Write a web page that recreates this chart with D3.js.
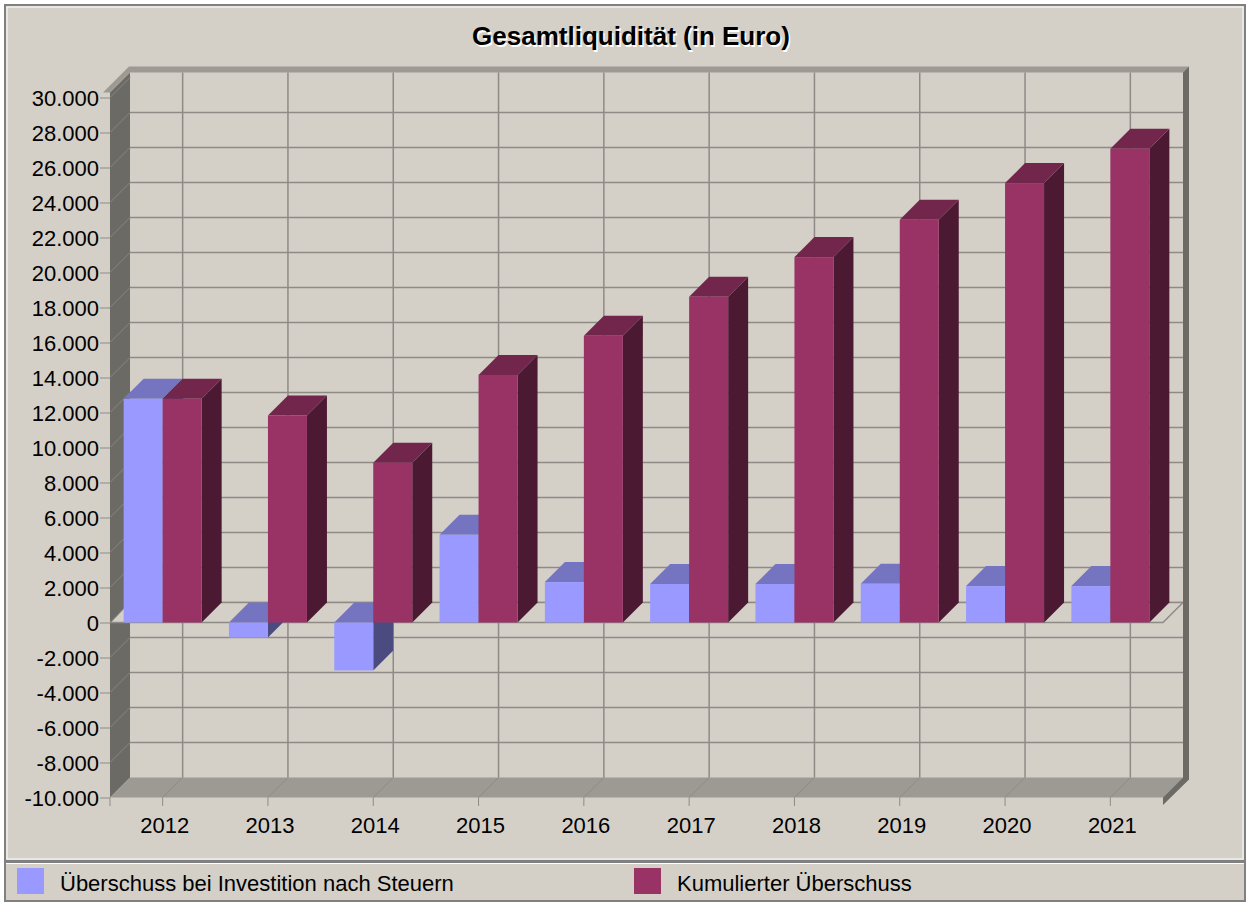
<!DOCTYPE html>
<html>
<style>
    body { margin: 0; background: #fff; }
    text { font-family: "Liberation Sans", Arial, sans-serif; fill: #000; }
    .axis text { font-size: 22px; }
    .legend text { font-size: 22px; }
</style>
<body>
<svg id="viz" width="1251" height="903"></svg>

<script src="https://cdnjs.cloudflare.com/ajax/libs/d3/7.8.5/d3.min.js"></script>
<script>
    // data
    var years = ['2012', '2013', '2014', '2015', '2016', '2017', '2018', '2019', '2020', '2021'];
    var ueberschuss = [12780, -860, -2740, 5010, 2310, 2200, 2200, 2210, 2080, 2080];
    var kumuliert = [12780, 11830, 9130, 14150, 16380, 18610, 20880, 23010, 25110, 27070];
    var seriesNames = ['Überschuss bei Investition nach Steuern', 'Kumulierter Überschuss'];
    var yTicks = d3.range(-10000, 30001, 2000);

    var bg = '#d4d0c8';
    var colors = [
        { front: '#9999ff', top: '#7474c0', side: '#4b4b80' },
        { front: '#993366', top: '#73264c', side: '#4c1933' }
    ];
    var gridColor = '#8e8b86';
    var wallDark = '#6b6a65';
    var ledge = '#9d9a93';

    var DX = 20, DY = -20;   // depth offset of the 3d box

    var svg = d3.select('#viz');

    var de = d3.formatLocale({ decimal: ',', thousands: '.', grouping: [3], currency: ['', ' €'], minus: '-' });
    var fmt = de.format(',d');

    var x = d3.scaleBand().domain(years).range([110, 1163]);
    var y = d3.scaleLinear().domain([-10000, 30000]).range([797.5, 97.5]);
    var xs = d3.scaleBand().domain([0, 1]).range([-39, 39]);

    var x0 = x.range()[0], x1 = x.range()[1];
    var yTop = y(30000) - 5, yBot = y(-10000);

    // frame panels
    svg.append('rect').attr('x', 5).attr('y', 5).attr('width', 1240).attr('height', 856)
        .attr('fill', bg).attr('stroke', '#808080').attr('stroke-width', 2);
    svg.append('rect').attr('x', 7).attr('y', 7).attr('width', 1236).attr('height', 852)
        .attr('fill', 'none').attr('stroke', '#fff').attr('stroke-width', 1);
    svg.append('rect').attr('x', 5).attr('y', 862).attr('width', 1240).attr('height', 39)
        .attr('fill', bg).attr('stroke', '#808080').attr('stroke-width', 2);
    svg.append('line').attr('x1', 6).attr('x2', 1244).attr('y1', 863.5).attr('y2', 863.5)
        .attr('stroke', '#fff').attr('stroke-width', 1);

    // title with white shadow
    var title = 'Gesamtliquidität (in Euro)';
    svg.append('text').attr('x', 632.5).attr('y', 46.5).attr('text-anchor', 'middle')
        .style('font-size', '26px').style('font-weight', 'bold').style('fill', '#fff').text(title);
    svg.append('text').attr('x', 631).attr('y', 45).attr('text-anchor', 'middle')
        .style('font-size', '26px').style('font-weight', 'bold').text(title);

    var pts = function (arr) { return arr.map(function (p) { return p.join(','); }).join(' '); };

    // left wall face
    svg.append('polygon').attr('fill', wallDark)
        .attr('points', pts([[x0, yTop + 0], [x0 + DX, yTop + DY], [x0 + DX, yBot + DY], [x0, yBot]]));
    // floor
    svg.append('polygon').attr('fill', ledge)
        .attr('points', pts([[x0, yBot], [x1, yBot], [x1 + DX, yBot + DY], [x0 + DX, yBot + DY]]));
    // top ledge of left + back wall
    svg.append('polygon').attr('fill', ledge)
        .attr('points', pts([[x0 - 7, yTop], [x0, yTop], [x0 + DX, yTop + DY], [x1 + DX, yTop + DY],
            [x1 + DX + 6, yTop + DY - 6], [x0 + DX - 1, yTop + DY - 6]]));
    // right edge of back wall and floor
    svg.append('polygon').attr('fill', wallDark)
        .attr('points', pts([[x1 + DX, yTop + DY], [x1 + DX + 6, yTop + DY - 6], [x1 + DX + 6, yBot + DY + 2],
            [x1, yBot + 7.5], [x1, yBot], [x1 + DX, yBot + DY]]));

    // back wall gridlines
    var grid = svg.append('g').attr('stroke', gridColor).attr('stroke-width', 1.5);
    grid.selectAll('.hg').data(yTicks.filter(function (v) { return v > -10000 && v < 30000; }))
        .enter().append('line')
        .attr('x1', x0 + DX).attr('x2', x1 + DX)
        .attr('y1', function (v) { return y(v) + DY; }).attr('y2', function (v) { return y(v) + DY; });
    grid.selectAll('.vg').data(years).enter().append('line')
        .attr('x1', function (d) { return x(d) + x.bandwidth() / 2 + DX; })
        .attr('x2', function (d) { return x(d) + x.bandwidth() / 2 + DX; })
        .attr('y1', yTop + DY).attr('y2', yBot + DY);
    // floor diagonals
    grid.selectAll('.fg').data(years).enter().append('line')
        .attr('x1', function (d) { return x(d) + x.bandwidth() / 2; })
        .attr('x2', function (d) { return x(d) + x.bandwidth() / 2 + DX; })
        .attr('y1', yBot).attr('y2', yBot + DY).attr('stroke-width', 1);
    // side wall diagonals
    svg.append('g').attr('stroke', '#88867f').attr('stroke-width', 1)
        .selectAll('line').data(yTicks.filter(function (v) { return v > -10000; }))
        .enter().append('line')
        .attr('x1', x0).attr('x2', x0 + DX)
        .attr('y1', function (v) { return y(v); }).attr('y2', function (v) { return y(v) + DY; });

    // zero plane
    svg.append('polygon').attr('fill', bg)
        .attr('points', pts([[x0 + 1, y(0)], [x1, y(0)], [x1 + DX, y(0) + DY], [x0 + DX, y(0) + DY]]));
    svg.append('polyline').attr('fill', 'none').attr('stroke', gridColor).attr('stroke-width', 1.5)
        .attr('points', pts([[x0 + DX, y(0) + DY], [x1 + DX, y(0) + DY]]));
    svg.append('polyline').attr('fill', 'none').attr('stroke', gridColor).attr('stroke-width', 1.5)
        .attr('points', pts([[x0, y(0)], [x1, y(0)], [x1 + DX, y(0) + DY]]));

    // bars, drawn left to right so the neighbour hides the side face
    var bars = [];
    years.forEach(function (yr, i) {
        [ueberschuss[i], kumuliert[i]].forEach(function (v, s) {
            bars.push({ year: yr, s: s, v: v });
        });
    });

    var barG = svg.append('g').selectAll('g').data(bars).enter().append('g')
        .each(function (d) {
            var g = d3.select(this);
            var bx = x(d.year) + x.bandwidth() / 2 + xs(d.s);
            var w = xs.bandwidth();
            var t = y(Math.max(d.v, 0)), b = y(Math.min(d.v, 0));
            var c = colors[d.s];
            g.append('polygon').attr('fill', c.side)
                .attr('points', pts([[bx + w, t], [bx + w + DX, t + DY], [bx + w + DX, b + DY], [bx + w, b]]));
            g.append('polygon').attr('fill', c.top)
                .attr('points', pts([[bx, t], [bx + w, t], [bx + w + DX, t + DY], [bx + DX, t + DY]]));
            g.append('rect').attr('fill', c.front)
                .attr('x', bx).attr('y', t).attr('width', w).attr('height', b - t);
        });

    // axes
    var yAxis = d3.axisLeft(y).tickValues(yTicks).tickFormat(fmt).tickSize(10).tickPadding(1);
    var yg = svg.append('g').attr('class', 'axis').attr('transform', 'translate(' + x0 + ',0)').call(yAxis);
    yg.select('.domain').remove();
    yg.selectAll('line').attr('stroke', gridColor);
    yg.selectAll('text').attr('dy', '0.36em');

    var xAxis = d3.axisBottom(x).tickSize(8.5).tickPadding(11);
    var xg = svg.append('g').attr('class', 'axis').attr('transform', 'translate(0,' + yBot + ')').call(xAxis);
    xg.select('.domain').remove();
    xg.selectAll('line').attr('stroke', gridColor);
    xg.selectAll('text').attr('dx', 2);
    svg.append('line').attr('x1', x0).attr('x2', x0).attr('y1', yBot).attr('y2', yBot + 8.5)
        .attr('stroke', gridColor);

    // legend
    var legX = [17, 634];
    var leg = svg.append('g').attr('class', 'legend').selectAll('g').data(seriesNames).enter().append('g')
        .attr('transform', function (d, i) { return 'translate(' + legX[i] + ',868)'; });
    leg.append('rect').attr('width', 27).attr('height', 26)
        .attr('fill', function (d, i) { return colors[i].front; });
    leg.append('text').attr('x', 43).attr('y', 23).text(function (d) { return d; });
</script>
</body>
</html>
